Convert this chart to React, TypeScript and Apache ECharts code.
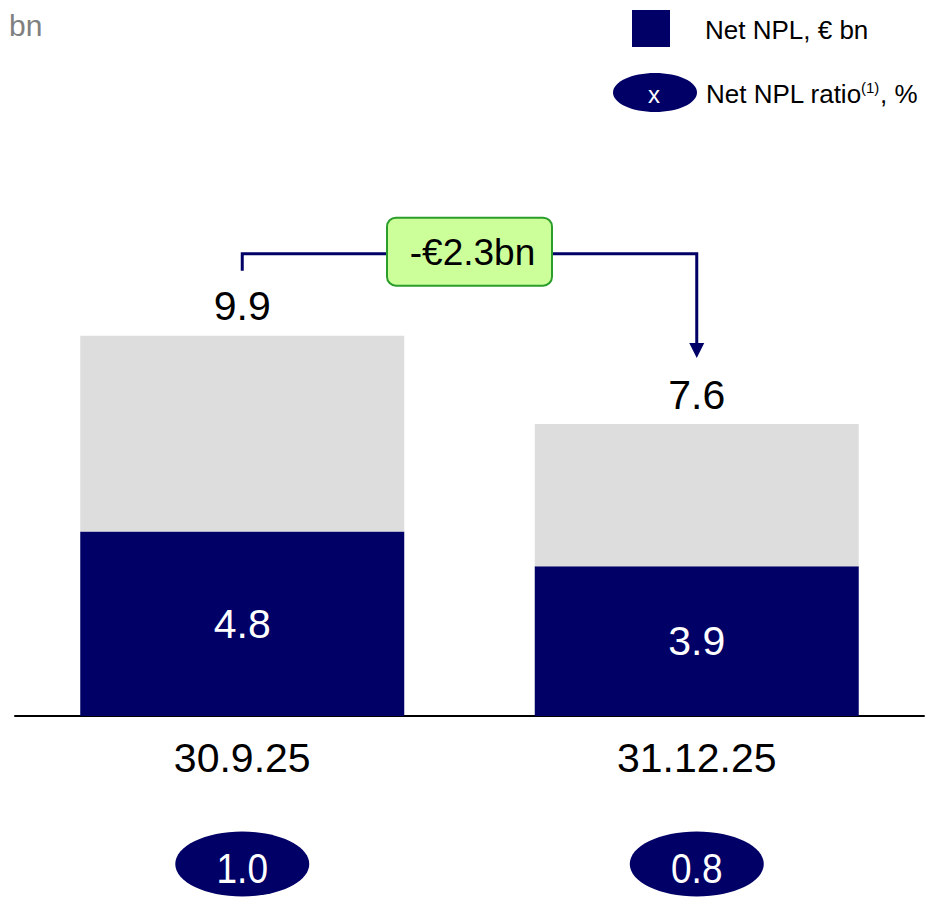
import React, { useEffect, useRef } from "react";
import * as echarts from "echarts";

const categories = ["30.9.25", "31.12.25"];
const totals = [9.9, 7.6];
const netNpl = [4.8, 3.9];
const ratios = [1.0, 0.8];

const NAVY = "#000066";
const GREY = "#dddddd";
const FONT = "'Liberation Sans', Arial, sans-serif";

export default function App() {
  const ref = useRef<HTMLDivElement>(null);

  useEffect(() => {
    if (!ref.current) return;
    const chart = echarts.init(ref.current, null, { renderer: "svg" });
    const other = totals.map((t, i) => +(t - netNpl[i]).toFixed(1));
    const change = totals[1] - totals[0];
    const changeText = `${change < 0 ? "-" : "+"}€${Math.abs(change).toFixed(1)}bn`;

    chart.setOption({
      animation: false,
      textStyle: { fontFamily: FONT },
      grid: { left: 15, right: 5, top: 255, bottom: 181 },
      xAxis: {
        type: "category",
        data: categories,
        axisLine: { show: true, lineStyle: { color: "#000", width: 2 } },
        axisTick: { show: false },
        axisLabel: { fontSize: 41, color: "#000", margin: 21, fontFamily: FONT },
        splitLine: { show: false },
      },
      yAxis: { type: "value", min: 0, max: 12, show: false, splitLine: { show: false } },
      graphic: [
        {
          type: "text",
          left: 9,
          top: 10,
          style: { text: "bn", fontSize: 30, fill: "#808080", fontFamily: FONT },
        },
        {
          type: "rect",
          shape: { x: 632, y: 10, width: 38, height: 37 },
          style: { fill: NAVY },
        },
        {
          type: "text",
          x: 705,
          y: 30,
          style: { text: "Net NPL, € bn", fontSize: 26, fill: "#000", fontFamily: FONT, align: "left", verticalAlign: "middle" },
        },
        {
          type: "ellipse",
          shape: { cx: 655, cy: 92.5, rx: 42, ry: 19.5 },
          style: { fill: NAVY },
        },
        {
          type: "text",
          x: 654,
          y: 94,
          style: { text: "x", fontSize: 24, fill: "#fff", fontFamily: FONT, align: "center", verticalAlign: "middle" },
        },
        {
          type: "text",
          x: 706,
          y: 94,
          style: { text: "Net NPL ratio", fontSize: 26, fill: "#000", fontFamily: FONT, align: "left", verticalAlign: "middle" },
        },
        {
          type: "text",
          x: 861,
          y: 87,
          style: { text: "(1)", fontSize: 15, fill: "#000", fontFamily: FONT, align: "left", verticalAlign: "middle" },
        },
        {
          type: "text",
          x: 880,
          y: 94,
          style: { text: ", %", fontSize: 26, fill: "#000", fontFamily: FONT, align: "left", verticalAlign: "middle" },
        },
      ],
      series: [
        {
          name: "Net NPL",
          type: "bar",
          stack: "a",
          barWidth: 324,
          data: netNpl,
          itemStyle: { color: NAVY },
          label: { show: true, position: "inside", color: "#fff", fontSize: 41, fontFamily: FONT },
        },
        {
          name: "Other",
          type: "bar",
          stack: "a",
          barWidth: 324,
          data: other,
          itemStyle: { color: GREY },
          label: {
            show: true,
            position: "top",
            distance: 9,
            color: "#000",
            fontSize: 41,
            fontFamily: FONT,
            formatter: (p: any) => totals[p.dataIndex].toFixed(1),
          },
        },
        {
          name: "Ratio",
          type: "custom",
          data: ratios.map((r, i) => [i, 0, r]),
          encode: { x: 0, y: 1 },
          renderItem: (params: any, api: any) => {
            const p = api.coord([api.value(0), 0]);
            const cy = p[1] + 148;
            return {
              type: "group",
              children: [
                { type: "ellipse", shape: { cx: p[0], cy, rx: 67, ry: 32.5 }, style: { fill: NAVY } },
                {
                  type: "text",
                  x: p[0],
                  y: cy + 4,
                  scaleY: 1.15,
                  style: {
                    text: Number(api.value(2)).toFixed(1),
                    fill: "#fff",
                    fontSize: 37,
                    fontFamily: FONT,
                    align: "center",
                    verticalAlign: "middle",
                  },
                },
              ],
            };
          },
        },
        {
          name: "Bracket",
          type: "custom",
          data: [[0, totals[0], 1, totals[1]]],
          encode: { x: 0, y: 1 },
          renderItem: (params: any, api: any) => {
            const p0 = api.coord([api.value(0), api.value(1)]);
            const p1 = api.coord([api.value(2), api.value(3)]);
            const yTop = p0[1] - 82;
            const tipY = p1[1] - 66;
            const midX = (p0[0] + p1[0]) / 2;
            return {
              type: "group",
              children: [
                {
                  type: "polyline",
                  shape: { points: [[p0[0], p0[1] - 65], [p0[0], yTop], [p1[0], yTop], [p1[0], tipY - 12]] },
                  style: { stroke: NAVY, lineWidth: 3, fill: null },
                },
                {
                  type: "polygon",
                  shape: { points: [[p1[0] - 7.5, tipY - 15], [p1[0] + 7.5, tipY - 15], [p1[0], tipY]] },
                  style: { fill: NAVY },
                },
                {
                  type: "rect",
                  shape: { x: midX - 82.5, y: yTop - 36, width: 165, height: 68, r: 9 },
                  style: { fill: "#ccff99", stroke: "#2a9d2a", lineWidth: 2 },
                },
                {
                  type: "text",
                  x: midX + 3,
                  y: yTop - 1,
                  style: {
                    text: changeText,
                    fill: "#000",
                    fontSize: 37,
                    fontFamily: FONT,
                    align: "center",
                    verticalAlign: "middle",
                  },
                },
              ],
            };
          },
        },
      ],
    });
    return () => chart.dispose();
  }, []);

  return <div ref={ref} style={{ position: "absolute", left: 0, top: 0, width: 929, height: 897 }} />;
}
